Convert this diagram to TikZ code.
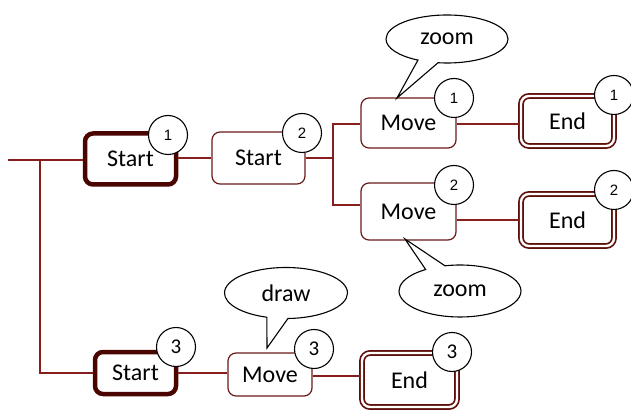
\documentclass[tikz,border=0pt]{standalone}
\usepackage{fontspec}
\setmainfont{Carlito}
\newfontfamily\digfont{Liberation Sans}
\usetikzlibrary{shapes.callouts,calc}
\definecolor{linecol}{RGB}{135,30,30}
\definecolor{thickcol}{RGB}{75,5,0}
\definecolor{thincol}{RGB}{105,25,25}
\definecolor{endcol}{RGB}{95,15,10}
\tikzset{
  conn/.style={draw=linecol, line width=1.2pt},
  startbox/.style={draw=thickcol, line width=4.5pt, rounded corners=8pt, inner sep=0pt, font=\fontsize{24}{24}\selectfont},
  plainbox/.style={draw=thincol, line width=1.2pt, rounded corners=8pt, inner sep=0pt, font=\fontsize{24}{24}\selectfont},
  endbox/.style={draw=endcol, line width=1.7pt, double=white, double distance=2.4pt, rounded corners=8pt, inner sep=0pt, font=\fontsize{24}{24}\selectfont},
  numc/.style={circle, draw=black, fill=white, line width=1.1pt, minimum size=39pt, inner sep=0pt, font=\digfont\fontsize{15}{15}\selectfont},
  numcb/.style={numc, font=\fontsize{21}{21}\selectfont},
  balloon/.style={ellipse callout, draw=black, fill=white, line width=1.1pt, inner sep=0pt, callout pointer arc=20, font=\fontsize{24}{24}\selectfont}
}
\begin{document}
\begin{tikzpicture}[x=1pt,y=-1pt]
\useasboundingbox (0,0) rectangle (631,411);
% boxes
\node[startbox, minimum width=91pt, minimum height=51pt] (S1) at (130.5,159) {Start};
\node[plainbox, minimum width=93pt, minimum height=52pt] (S2) at (258.5,158) {Start};
\node[plainbox, minimum width=95pt, minimum height=50pt] (M1) at (408.5,123) {Move};
\node[plainbox, minimum width=95pt, minimum height=57pt] (M2) at (408.5,211.5) {Move};
\node[endbox, minimum width=93pt, minimum height=50pt] (E1) at (567.5,121) {End};
\node[endbox, minimum width=93pt, minimum height=52pt] (E2) at (567.5,220) {End};
\node[startbox, minimum width=81pt, minimum height=42pt] (S3) at (135.5,373) {Start};
\node[plainbox, minimum width=84pt, minimum height=43pt] (M3) at (270,374.5) {Move};
\node[endbox, minimum width=95pt, minimum height=54pt] (E3) at (409.5,380) {End};
% connectors
\coordinate (L) at (8,160);
\coordinate (J) at (40,160);
\coordinate (K) at (333,158);
\draw[conn] (L) -- (S1.west |- L);
\draw[conn] (J) |- (S3.west);
\draw[conn] (S1.east |- S2.west) -- (S2.west);
\draw[conn] (S2.east) -- (K);
\draw[conn] (K) |- (M1.west |- 0,124);
\draw[conn] (K) |- (M2.west |- 0,205);
\draw[conn] (M1.east |- 0,124) -- (E1.west |- 0,124);
\draw[conn] (M2.east |- E2.west) -- (E2.west);
\draw[conn] (S3.east) -- (M3.west |- S3.east);
\draw[conn] (M3.east |- 0,376) -- (E3.west |- 0,376);
% number circles
\node[numc] (n1) at (168,135) {1};
\node[numc] (n2) at (302,133) {2};
\node[numc] (n3) at (454,98) {1};
\node[numc] (n4) at (614,95) {1};
\node[numc] (n5) at (454,185) {2};
\node[numc] (n6) at (614,190) {2};
\node[numcb] (n7) at (176,347) {3};
\node[numcb] (n8) at (314,349) {3};
\node[numcb] (n9) at (452,352) {3};
% balloons
\coordinate (p1) at (397,98);
\coordinate (p2) at (405,239);
\coordinate (p3) at (267,348);
\node[balloon, minimum width=122pt, minimum height=48pt, callout absolute pointer={(p1)}] (b1) at (447,39) {zoom};
\node[balloon, minimum width=122pt, minimum height=52pt, callout absolute pointer={(p2)}] (b2) at (460,291) {zoom};
\node[balloon, minimum width=123pt, minimum height=51pt, callout absolute pointer={(p3)}] (b3) at (286,293) {draw};
\end{tikzpicture}
\end{document}
